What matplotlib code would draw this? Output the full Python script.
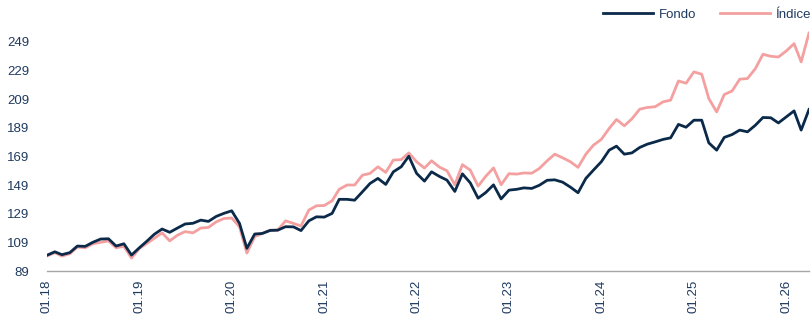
import numpy as np
import pandas as pd
import matplotlib
matplotlib.use("Agg")
import matplotlib.pyplot as plt
import matplotlib.dates as mdates

plt.rcParams['font.family'] = ['Liberation Sans', 'DejaVu Sans']

# monthly data, Jan 2018 - Apr 2026
fechas = pd.date_range("2018-01-01", periods=100, freq="MS")

fondo = [
    100, 102.4, 100.4, 101.8, 106.4, 106.2, 109, 111.3, 111.5, 106.4,
    108, 100.1, 105.2, 110, 114.6, 118.3, 116, 119, 121.8, 122.3,
    124.5, 123.6, 127.1, 129.2, 131, 122.2, 104.8, 114.8, 115.2, 117.3,
    117.5, 119.9, 119.8, 117.2, 124, 126.8, 126.6, 129.2, 139, 139,
    138.4, 144.3, 150.1, 153.6, 149.4, 158.2, 161.7, 169.1, 157.1, 151.7,
    158.2, 155, 152.4, 144.5, 156.8, 150.5, 139.8, 143.7, 149.1, 139.3,
    145.4, 146, 147, 146.6, 148.8, 152.3, 152.6, 151, 147.5, 143.6,
    153.6, 159.4, 165.2, 173.3, 176.1, 170.5, 171.4, 175.2, 177.5, 179.1,
    180.8, 181.9, 191.3, 189.3, 194.2, 194.2, 178.4, 173.3, 182.2, 184.2,
    187.3, 186.1, 190.7, 196.1, 195.9, 192.3, 196.5, 200.7, 187.3, 201.7,
]

indice = [
    99.5, 101.8, 99.4, 101, 105.7, 105.2, 108, 109, 110, 105.2,
    106.2, 98, 104.7, 108.4, 111.8, 115.6, 110, 114, 116.5, 115.6,
    119, 119.4, 123.3, 125.6, 126, 119.8, 101.5, 113, 115.2, 117.5,
    117.5, 124, 122.2, 120.4, 131.5, 134.5, 134.7, 138, 146, 149,
    149, 155.9, 157.1, 161.7, 157.8, 166.4, 166.7, 171.4, 165.2, 160.8,
    165.9, 161.5, 158.9, 149.2, 163.2, 159.4, 148.2, 155, 160.9, 149.2,
    156.9, 156.6, 157.4, 157.2, 160.5, 165.9, 170.5, 168, 165.2, 161.3,
    170.5, 176.8, 180.8, 188.4, 194.7, 190.3, 195.2, 201.9, 203.1, 203.6,
    207, 208.2, 221.6, 220, 227.9, 226.3, 209.3, 200, 212.1, 214.6,
    222.8, 223.3, 230.2, 240.2, 238.8, 238.3, 242.5, 247.6, 234.9, 255,
]

yticks = [89, 109, 129, 149, 169, 189, 209, 229, 249]

navy = "#0b2a4a"
rosa = "#f4a0a0"
texto = "#1f3a5f"

fig = plt.figure(figsize=(8.11, 3.17), dpi=100)
ax = fig.add_axes([47/811, 46/317, 762/811, 258/317])

ax.plot(fechas, fondo, color=navy, lw=2.0, label="Fondo", zorder=3)
ax.plot(fechas, indice, color=rosa, lw=2.0, label="Índice", zorder=2)

ax.set_xlim(fechas[0], fechas[-1])
ax.set_ylim(89, 269)
ax.set_yticks(yticks)

ax.xaxis.set_major_locator(mdates.YearLocator(month=1, day=1))
ax.xaxis.set_major_formatter(mdates.DateFormatter("%m.%y"))
plt.setp(ax.get_xticklabels(), rotation=90)

ax.tick_params(axis="both", length=0, labelsize=9.5, colors=texto)
ax.tick_params(axis="y", pad=13)
ax.tick_params(axis="x", pad=6)

for s in ["top", "right", "left"]:
    ax.spines[s].set_visible(False)
ax.spines["bottom"].set_color("#a6a6a6")
ax.spines["bottom"].set_linewidth(1)

fig.legend(loc="center left", bbox_to_anchor=(603/811, 1 - 15/317), ncol=2,
           frameon=False, handlelength=3.8, handletextpad=0.4,
           columnspacing=1.8, borderpad=0, borderaxespad=0,
           fontsize=9.5, labelcolor=texto)

fig.savefig("out.png", dpi=100)
